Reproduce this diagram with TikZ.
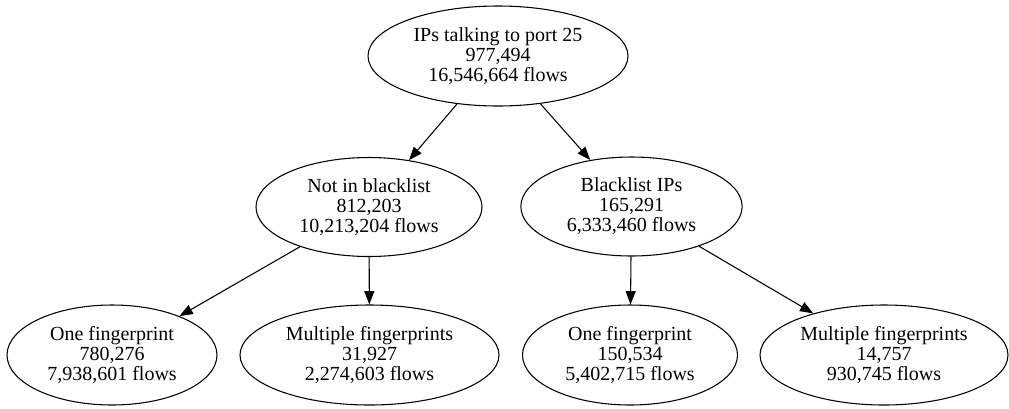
\documentclass[tikz,border=0pt]{standalone}
\usepackage{fontspec}
\setmainfont{Liberation Serif}
\usetikzlibrary{shapes.geometric,arrows.meta}
\begin{document}
\begin{tikzpicture}[x=0.75pt,y=-0.75pt,
  el/.style={draw,ellipse,line width=0.8pt,inner sep=0pt,align=center,
    font=\fontsize{15}{15}\selectfont},
  edge/.style={line width=0.8pt,-{Triangle[length=10pt,width=7.5pt]}}]
\useasboundingbox (0,0) rectangle (1009,408);
\node[el,minimum width=195pt,minimum height=75pt] (root) at (498,56) {IPs talking to port 25\\977,494\\16,546,664 flows};
\node[el,minimum width=169.5pt,minimum height=74.25pt] (nib) at (369,207) {Not in blacklist\\812,203\\10,213,204 flows};
\node[el,minimum width=166pt,minimum height=74.25pt] (bl) at (631.5,206.5) {Blacklist IPs\\165,291\\6,333,460 flows};
\node[el,minimum width=157.5pt,minimum height=75pt] (ofa) at (112,355) {One fingerprint\\780,276\\7,938,601 flows};
\node[el,minimum width=194.25pt,minimum height=75pt] (mfa) at (369.5,355) {Multiple fingerprints\\31,927\\2,274,603 flows};
\node[el,minimum width=161.25pt,minimum height=75pt] (ofb) at (630,355) {One fingerprint\\150,534\\5,402,715 flows};
\node[el,minimum width=186pt,minimum height=75pt] (mfb) at (884,355) {Multiple fingerprints\\14,757\\930,745 flows};
\draw[edge] (root) -- (nib);
\draw[edge] (root) -- (bl);
\draw[edge] (nib) -- (ofa);
\draw[edge] (nib) -- (mfa);
\draw[edge] (bl) -- (ofb);
\draw[edge] (bl) -- (mfb);
\end{tikzpicture}
\end{document}
